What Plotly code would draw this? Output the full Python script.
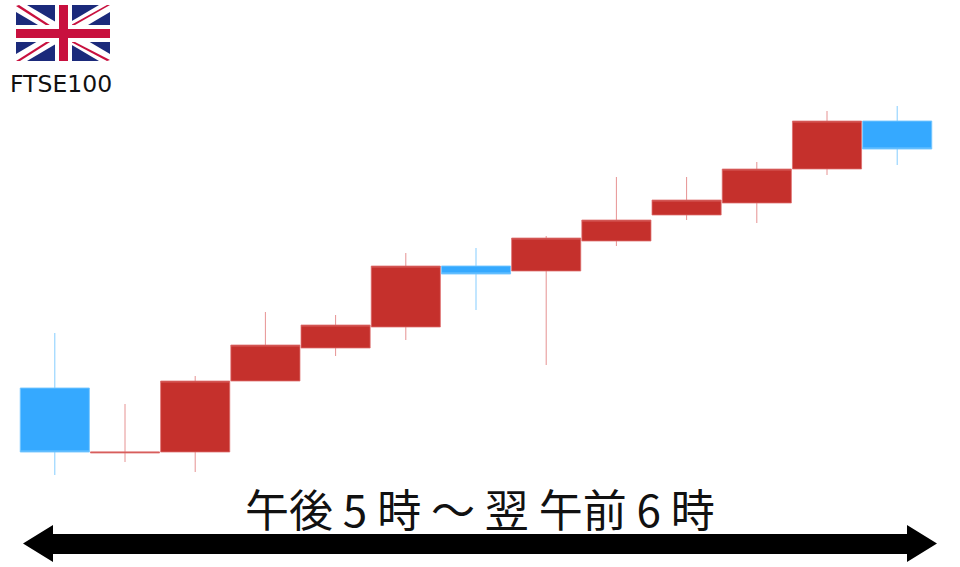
import plotly.graph_objects as go

W, H = 960, 567
# price scale: arbitrary units (level above the bottom edge)
sessions = list(range(13))
opens  = [179, 114, 115, 186, 219, 240, 301, 296, 326, 352, 364, 398, 446]
closes = [115, 115, 186, 222, 242, 301, 293, 329, 347, 367, 398, 446, 418]
highs  = [234, 163, 191, 255, 252, 314, 319, 331, 390, 390, 405, 456, 461]
lows   = [ 92, 105,  95, 186, 211, 227, 257, 202, 321, 347, 344, 392, 402]

title_text = "午後 5 時 ～ 翌 午前 6 時"
flag_label = "FTSE100"

RED, RED_EDGE = "#c5302c", "rgba(222,110,110,0.75)"
BLUE, BLUE_EDGE = "#35a9ff", "rgba(120,200,255,0.9)"

fig = go.Figure(go.Candlestick(
    x=sessions, open=opens, high=highs, low=lows, close=closes,
    whiskerwidth=0,
    increasing=dict(fillcolor=RED, line=dict(color=RED_EDGE, width=1)),
    decreasing=dict(fillcolor=BLUE, line=dict(color=BLUE_EDGE, width=1)),
    hoverinfo="skip", showlegend=False,
))

def poly(points, color):
    d = "M" + " L".join(f"{x/W:.5f},{1-y/H:.5f}" for x, y in points) + " Z"
    return dict(type="path", xref="paper", yref="paper", path=d,
                fillcolor=color, line=dict(width=0), layer="above")

def rect(x0, y0, x1, y1, color):
    return poly([(x0, y0), (x1, y0), (x1, y1), (x0, y1)], color)

NAVY, FRED, WHITE = "#1b2a7b", "#c8103e", "#ffffff"
L, T, R, B = 16, 5, 110, 61
shapes = [
    rect(L, T, R, B, NAVY),
    poly([(L, T), (L+11, T), (R, B-7), (R, B), (R-11, B), (L, T+7)], WHITE),
    poly([(R, T), (R, T+7), (L+11, B), (L, B), (L, B-7), (R-11, T)], WHITE),
    poly([(L, T+1), (L+3, T), (56, 29), (52, 29)], FRED),
    poly([(71, 25), (R-3, T), (R, T), (75, 25)], FRED),
    poly([(L, B), (L+4, B), (50, 42), (46, 42)], FRED),
    poly([(71, 42), (75, 42), (R, B-1), (R-3, B)], FRED),
    rect(55, T, 72, B, WHITE),
    rect(L, 25, R, 42, WHITE),
    rect(59, T, 68, B, FRED),
    rect(L, 29, R, 38, FRED),
    poly([(23, 543.5), (53, 525), (53, 534), (907, 534), (907, 525), (937, 543.5),
          (907, 562), (907, 554), (53, 554), (53, 562)], "#000000"),
]

annotations = [
    dict(text=flag_label, x=61/W, y=1-84/H, xref="paper", yref="paper",
         xanchor="center", yanchor="middle", showarrow=False,
         font=dict(family="DejaVu Sans", size=23.5, color="#111111")),
    dict(text=title_text, x=480/W, y=1-508/H, xref="paper", yref="paper",
         xanchor="center", yanchor="middle", showarrow=False,
         font=dict(family="Noto Sans CJK JP", size=44, color="#111111")),
]

x_unit = 70.2
x_min = -54.8 / x_unit
fig.update_layout(
    width=W, height=H, autosize=False,
    margin=dict(l=0, r=0, t=0, b=0),
    paper_bgcolor="#ffffff", plot_bgcolor="#ffffff",
    boxmode="group", boxgap=0.015, boxgroupgap=0,
    shapes=shapes, annotations=annotations,
    xaxis=dict(range=[x_min, x_min + W / x_unit], visible=False,
               rangeslider=dict(visible=False), fixedrange=True),
    yaxis=dict(range=[0, H], visible=False, fixedrange=True),
)
fig.write_html("out.html", config=dict(displayModeBar=False),
               post_script="document.body.style.margin='0';document.documentElement.style.overflow='hidden';")
